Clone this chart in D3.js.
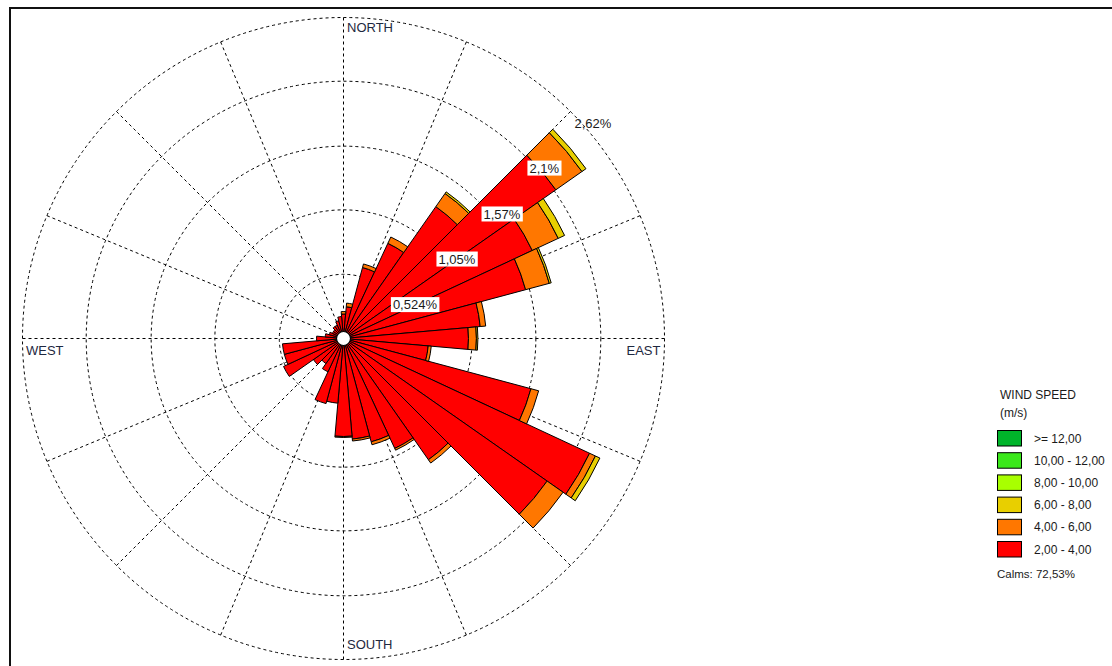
<!DOCTYPE html>
<html>
<head>
<meta charset="utf-8">
<script src="https://cdn.jsdelivr.net/npm/d3@7"></script>
<style>
  body { margin: 0; background: #fff; }
  svg { display: block; font-family: "Liberation Sans", Arial, sans-serif; }
</style>
</head>
<body>
<svg id="chart" width="1112" height="666"></svg>
<script>
// Wind directions (degrees, clockwise from north), one 10-degree sector each
const directions = d3.range(0, 360, 10);

// Frequency (%) per direction for each wind-speed class
const freq2to4 = [0.20, 0.26, 0.60, 0.857, 1.314, 2.116, 1.70, 1.539, 1.12, 1.02, 0.694, 1.584,
                  2.216, 2.029, 1.208, 0.99, 0.873, 0.824, 0.80, 0.53, 0.55, 0.30, 0.25, 0.30,
                  0.54, 0.50, 0.50, 0.22, 0.15, 0.12, 0.10, 0.10, 0.12, 0.12, 0.15, 0.18];
const freq4to6 = [0.02, 0.03, 0.03, 0.057, 0.131, 0.26, 0.234, 0.20, 0.045, 0.065, 0.025, 0.065,
                  0.053, 0.159, 0.033, 0.016, 0.025, 0.016, 0.008, 0, 0, 0, 0, 0,
                  0, 0, 0, 0, 0, 0, 0, 0, 0, 0, 0, 0];
const freq6to8 = [0, 0, 0, 0, 0.016, 0.04, 0.057, 0.016, 0, 0.012, 0, 0,
                  0.04, 0, 0, 0, 0, 0, 0, 0, 0, 0, 0, 0,
                  0, 0, 0, 0, 0, 0, 0, 0, 0, 0, 0, 0];
const freq8to10 = new Array(36).fill(0);
const freq10to12 = new Array(36).fill(0);
const freq12up = new Array(36).fill(0);

// Speed classes, innermost first
const classKeys = ["s2", "s4", "s6", "s8", "s10", "s12"];
const classLabels = ["2,00 - 4,00", "4,00 - 6,00", "6,00 - 8,00", "8,00 - 10,00", "10,00 - 12,00", ">= 12,00"];
const classColors = ["#ff0000", "#ff7700", "#e8cf00", "#a8ff00", "#3ae81a", "#00b42a"];

// Ring ticks and labels
const ringTicks = [0.524, 1.05, 1.57, 2.1, 2.62];
const ringLabels = ["0,524%", "1,05%", "1,57%", "2,1%", "2,62%"];
const compassLabels = ["NORTH", "EAST", "SOUTH", "WEST"];
const legendTitle = ["WIND SPEED", "(m/s)"];
const calmsText = "Calms: 72,53%";

const svg = d3.select("#chart");
const cx = 343.5, cy = 338.5;
const rMax = 321;
const r = d3.scaleLinear().domain([0, 2.62]).range([0, rMax]);
const rad = d => d * Math.PI / 180;

// outer frame
svg.append("rect").attr("x", 10).attr("y", 8).attr("width", 1300).attr("height", 900)
  .attr("fill", "none").attr("stroke", "#111").attr("stroke-width", 2);

const g = svg.append("g").attr("transform", `translate(${cx},${cy})`);

// polar grid
const grid = g.append("g").attr("fill", "none").attr("stroke", "#000")
  .attr("stroke-width", 1).attr("stroke-dasharray", "3,3");
ringTicks.forEach(t => grid.append("circle").attr("r", r(t)));
d3.range(0, 360, 22.5).forEach(a => {
  grid.append("line").attr("x1", 0).attr("y1", 0)
    .attr("x2", rMax * Math.sin(rad(a))).attr("y2", -rMax * Math.cos(rad(a)));
});

// compass labels
const compassPos = [
  { x: cx + 3.5, y: cy - rMax + 14, anchor: "start" },
  { x: cx + rMax - 4, y: cy + 16.5, anchor: "end" },
  { x: cx + 3.5, y: cy + rMax - 11, anchor: "start" },
  { x: cx - rMax + 3.5, y: cy + 16.5, anchor: "start" }
];
compassLabels.forEach((t, i) => {
  svg.append("text").attr("x", compassPos[i].x).attr("y", compassPos[i].y)
    .attr("text-anchor", compassPos[i].anchor)
    .attr("font-size", 13).attr("fill", "#1e2840").text(t);
});

// stacked bars
const rows = directions.map((d, i) => ({
  dir: d, s2: freq2to4[i], s4: freq4to6[i], s6: freq6to8[i],
  s8: freq8to10[i], s10: freq10to12[i], s12: freq12up[i]
}));
const series = d3.stack().keys(classKeys)(rows);
const arc = d3.arc();
series.forEach((s, k) => {
  g.append("g").selectAll("path").data(s.filter(p => p[1] - p[0] > 0)).join("path")
    .attr("d", p => arc({
      innerRadius: r(p[0]), outerRadius: r(p[1]),
      startAngle: rad(p.data.dir - 5), endAngle: rad(p.data.dir + 5)
    }))
    .attr("fill", classColors[k]).attr("stroke", "#000").attr("stroke-width", 1)
    .attr("stroke-linejoin", "miter");
});

// calm circle
g.append("circle").attr("r", 7).attr("fill", "#fff").attr("stroke", "#000").attr("stroke-width", 1.2);

// ring labels along the 45-degree line
ringTicks.forEach((t, i) => {
  const px = r(t) * Math.cos(rad(45)), py = -r(t) * Math.sin(rad(45));
  const txt = g.append("text").attr("x", px + 4).attr("y", py + 16)
    .attr("font-size", 13).attr("fill", "#1a1a1a").text(ringLabels[i]);
  if (i < ringTicks.length - 1) {
    const bb = txt.node().getBBox();
    g.insert("rect", () => txt.node())
      .attr("x", bb.x - 2).attr("y", bb.y).attr("width", bb.width + 4).attr("height", bb.height)
      .attr("fill", "#fff");
  }
});

// legend
const lg = svg.append("g").attr("font-size", 12).attr("fill", "#1a1a1a");
lg.append("text").attr("x", 1000).attr("y", 399).text(legendTitle[0]);
lg.append("text").attr("x", 1000).attr("y", 417).text(legendTitle[1]);
const legendOrder = d3.range(classKeys.length).reverse();
legendOrder.forEach((k, j) => {
  const y = 430.5 + j * 22.2;
  lg.append("rect").attr("x", 997.5).attr("y", y).attr("width", 24).attr("height", 15.5)
    .attr("fill", classColors[k]).attr("stroke", "#000").attr("stroke-width", 1);
  lg.append("text").attr("x", 1034).attr("y", y + 12).text(classLabels[k]);
});
lg.append("text").attr("x", 997).attr("y", 578).attr("font-size", 11.5).text(calmsText);
</script>
</body>
</html>
